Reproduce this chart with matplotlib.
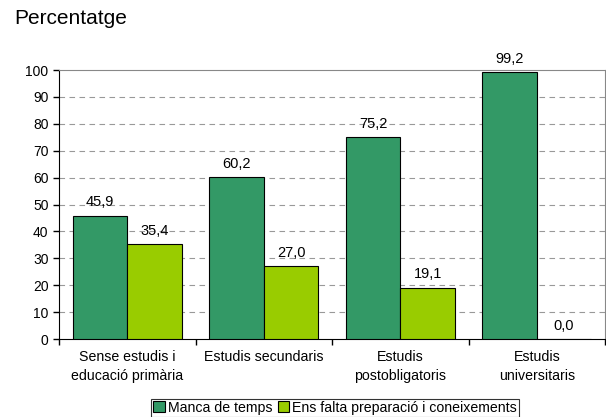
import numpy as np
import matplotlib.pyplot as plt

plt.rcParams['font.family'] = ['Liberation Sans', 'DejaVu Sans']

categories = ['Sense estudis i\neducació primària', 'Estudis secundaris',
              'Estudis\npostobligatoris', 'Estudis\nuniversitaris']
manca_temps = [45.9, 60.2, 75.2, 99.2]
falta_prep = [35.4, 27.0, 19.1, 0.0]
series_names = ['Manca de temps', 'Ens falta preparació i coneixements']

fig = plt.figure(figsize=(6.06, 4.17), dpi=100)
ax = fig.add_axes([0.0974, 0.187, 0.901, 0.645])

x = np.arange(len(categories))
w = 0.4
b1 = ax.bar(x - w / 2, manca_temps, w, color='#339966', edgecolor='black', linewidth=0.8,
            label=series_names[0], zorder=3)
b2 = ax.bar(x + w / 2, falta_prep, w, color='#99CC00', edgecolor='black', linewidth=0.8,
            label=series_names[1], zorder=3)

for bars, vals in ((b1, manca_temps), (b2, falta_prep)):
    for bar, v in zip(bars, vals):
        ax.text(bar.get_x() + bar.get_width() / 2, v + 2.3, f'{v:.1f}'.replace('.', ','),
                ha='center', va='bottom', fontsize=10.5)

ax.set_xlim(-0.5, len(categories) - 0.5)
ax.set_ylim(0, 100)
ax.set_yticks(range(0, 101, 10))
ax.tick_params(axis='y', labelsize=10, direction='out', length=4, width=1)
ax.set_xticks(np.arange(len(categories) + 1) - 0.5)
ax.set_xticklabels([])
ax.set_xticks(x, minor=True)
ax.set_xticklabels(categories, minor=True, fontsize=10.2, linespacing=1.45)
ax.tick_params(axis='x', which='minor', length=0, pad=8)
ax.tick_params(axis='x', which='major', direction='out', length=4, width=1)

for yv in range(10, 100, 10):
    ax.axhline(yv, color='#999999', linestyle=(0, (5, 4)), linewidth=0.8, zorder=1)

ax.spines['top'].set_color('#888888')
ax.spines['right'].set_color('#888888')
ax.spines['left'].set_color('black')
ax.spines['bottom'].set_color('black')

fig.text(0.023, 0.955, 'Percentatge', fontsize=15, va='center', ha='left')

leg = fig.legend(handles=[b1, b2], loc='center', bbox_to_anchor=(0.553, 0.022), ncol=2,
                 frameon=True, fancybox=False, edgecolor='black', fontsize=10.2,
                 handlelength=0.8, handleheight=0.8, handletextpad=0.2, columnspacing=0.4,
                 borderpad=0.15, borderaxespad=0)
leg.get_frame().set_linewidth(0.8)

fig.savefig('out.png', dpi=100)
